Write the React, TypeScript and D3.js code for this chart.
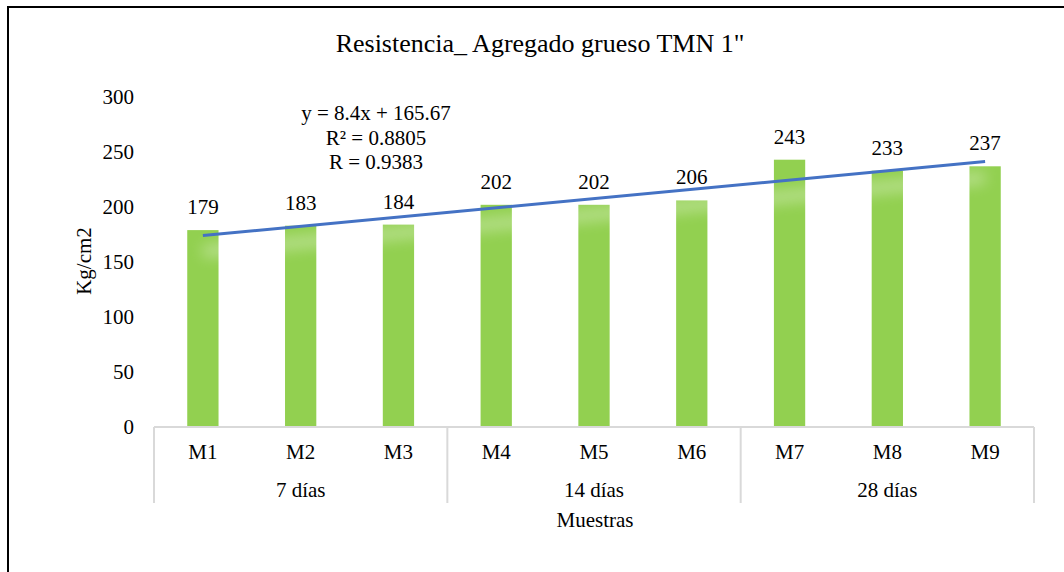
import { useEffect, useRef } from 'react'
import * as d3 from 'd3'

const samples = ['M1', 'M2', 'M3', 'M4', 'M5', 'M6', 'M7', 'M8', 'M9']
const values = [179, 183, 184, 202, 202, 206, 243, 233, 237]
const groups = ['7 días', '14 días', '28 días']
const yTicks = [0, 50, 100, 150, 200, 250, 300]
const trendSlope = 8.4
const trendIntercept = 165.67
const trendLabels = ['y = 8.4x + 165.67', 'R² = 0.8805', 'R = 0.9383']

const FONT = "'Liberation Serif', 'Times New Roman', serif"

export default function App() {
  const svgRef = useRef<SVGSVGElement>(null)

  useEffect(() => {
    if (!svgRef.current) return
    const svg = d3.select(svgRef.current)
    svg.selectAll('*').remove()

    const width = 1064
    const height = 572
    const left = 154
    const right = 1034
    const top = 97
    const bottom = 427
    const fs = 21

    svg.attr('width', width).attr('height', height)

    // frame
    svg.append('rect')
      .attr('x', 8).attr('y', 7).attr('width', 1070).attr('height', 600)
      .attr('fill', 'white').attr('stroke', 'black').attr('stroke-width', 2)

    const x = d3.scaleBand().domain(samples).range([left, right]).paddingInner(0.68).paddingOuter(0.34)
    const y = d3.scaleLinear().domain([0, 300]).range([bottom, top])

    const label = (sel: any) => sel.style('font-family', FONT).attr('fill', '#000')

    svg.append('text')
      .attr('x', 540).attr('y', 52).attr('text-anchor', 'middle')
      .attr('font-size', 26).call(label).text('Resistencia_ Agregado grueso TMN 1"')

    // y ticks
    svg.append('g').selectAll('text').data(yTicks).join('text')
      .attr('x', 134).attr('y', (d) => y(d) + 7)
      .attr('text-anchor', 'end').attr('font-size', fs).call(label)
      .text((d) => d)

    svg.append('text')
      .attr('transform', 'translate(91,261) rotate(-90)')
      .attr('text-anchor', 'middle').attr('font-size', fs).call(label).text('Kg/cm2')

    const defs = svg.append('defs')
    defs.append('filter').attr('id', 'blur').attr('x', '-10%').attr('y', '-300%').attr('width', '120%').attr('height', '700%')
      .append('feGaussianBlur').attr('stdDeviation', 7)

    // bars
    svg.append('g').selectAll('rect').data(values).join('rect')
      .attr('x', (_, i) => x(samples[i])!)
      .attr('y', (d) => y(d))
      .attr('width', x.bandwidth())
      .attr('height', (d) => bottom - y(d))
      .attr('fill', '#92D050')

    // data labels
    svg.append('g').selectAll('text').data(values).join('text')
      .attr('x', (_, i) => x(samples[i])! + x.bandwidth() / 2)
      .attr('y', (d) => y(d) - 16)
      .attr('text-anchor', 'middle').attr('font-size', fs).call(label)
      .text((d) => d)

    // trendline with soft shadow
    const cx = (i: number) => x(samples[i])! + x.bandwidth() / 2
    const pts: [number, number][] = [0, samples.length - 1].map((i) => [cx(i), y(trendSlope * (i + 1) + trendIntercept)])
    const line = d3.line()
    svg.append('path')
      .attr('d', line(pts.map(([a, b]) => [a, b + 16]) as [number, number][]))
      .attr('stroke', 'white').attr('stroke-width', 12).attr('opacity', 0.35)
      .attr('fill', 'none').attr('filter', 'url(#blur)')
    svg.append('path')
      .attr('d', line(pts))
      .attr('stroke', '#4472C4').attr('stroke-width', 3).attr('fill', 'none')

    svg.append('g').selectAll('text').data(trendLabels).join('text')
      .attr('x', 376).attr('y', (_, i) => 120 + i * 24.5)
      .attr('text-anchor', 'middle').attr('font-size', fs).call(label)
      .text((d) => d)

    // x axis
    const axis = svg.append('g').attr('stroke', '#D9D9D9').attr('stroke-width', 2)
    axis.append('line').attr('x1', left).attr('x2', right).attr('y1', bottom).attr('y2', bottom)
    const step = x.step()
    ;[0, 3, 6, 9].forEach((k) => {
      const xx = left + k * step
      axis.append('line').attr('x1', xx).attr('x2', xx).attr('y1', bottom).attr('y2', 503)
    })

    svg.append('g').selectAll('text').data(samples).join('text')
      .attr('x', (d) => x(d)! + x.bandwidth() / 2).attr('y', 459)
      .attr('text-anchor', 'middle').attr('font-size', fs).call(label).text((d) => d)

    svg.append('g').selectAll('text').data(groups).join('text')
      .attr('x', (_, i) => left + (i * 3 + 1.5) * step).attr('y', 497)
      .attr('text-anchor', 'middle').attr('font-size', fs).call(label).text((d) => d)

    svg.append('text')
      .attr('x', 595).attr('y', 527).attr('text-anchor', 'middle')
      .attr('font-size', fs).call(label).text('Muestras')
  }, [])

  return <svg ref={svgRef} style={{ position: 'absolute', left: 0, top: 0 }} />
}
